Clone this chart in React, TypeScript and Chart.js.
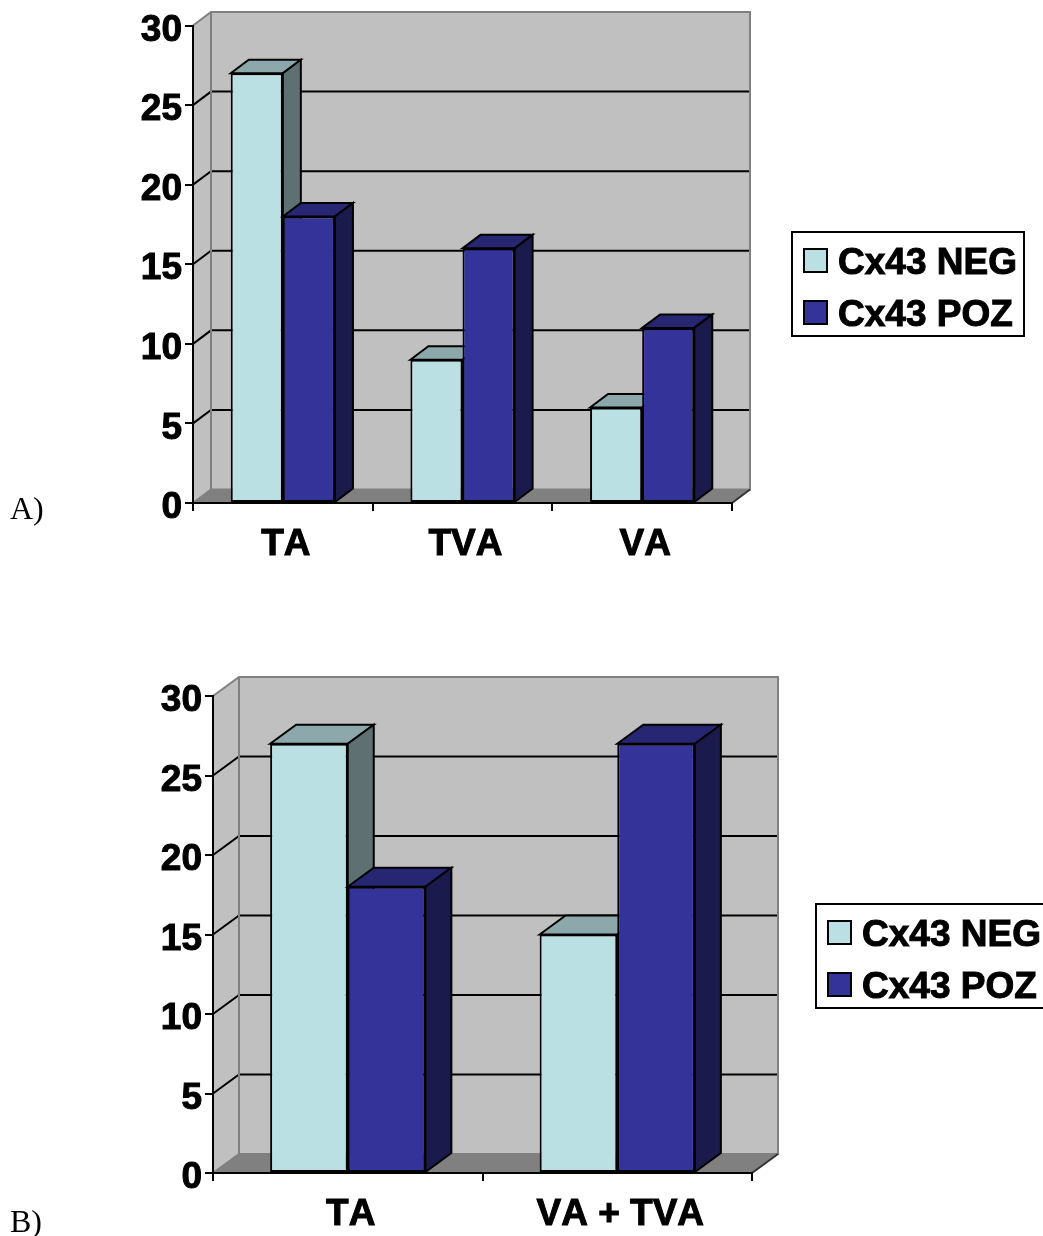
import React, { useEffect, useRef } from "react";
import { Chart, registerables } from "chart.js";

Chart.register(...registerables);

const categoriesA = ["TA", "TVA", "VA"];
const negativeA = [27, 9, 6];
const positiveA = [18, 16, 11];

const categoriesB = ["TA", "VA + TVA"];
const negativeB = [27, 15];
const positiveB = [18, 27];

const seriesNames = ["Cx43 NEG", "Cx43 POZ"];
const yTicks = [0, 5, 10, 15, 20, 25, 30];

const FRONT = ["#BBE0E3", "#333399"];
const TOP = ["#8CA8AA", "#262673"];
const SIDE = ["#5E7072", "#1A1A4D"];
const FONT = { family: "'Liberation Sans', Arial, sans-serif", size: 37, weight: "bold" as const };

type Geo = {
  h: number; left: number; right: number; top: number; bottom: number;
  dx: number; dy: number; catPct: number;
  legend: { x: number; y: number; w: number; h: number; sx: number; sy: number[]; tx: number };
  xPad: number;
};

const poly = (ctx: any, pts: number[][], fill: string | null, stroke: string | null, lw = 2) => {
  ctx.beginPath();
  pts.forEach((p, i) => (i ? ctx.lineTo(p[0], p[1]) : ctx.moveTo(p[0], p[1])));
  ctx.closePath();
  if (fill) { ctx.fillStyle = fill; ctx.fill(); }
  if (stroke) { ctx.strokeStyle = stroke; ctx.lineWidth = lw; ctx.lineJoin = "miter"; ctx.stroke(); }
};

const line = (ctx: any, pts: number[][], color: string, lw = 2) => {
  ctx.beginPath();
  pts.forEach((p, i) => (i ? ctx.lineTo(p[0], p[1]) : ctx.moveTo(p[0], p[1])));
  ctx.strokeStyle = color;
  ctx.lineWidth = lw;
  ctx.stroke();
};

const depthPlugin = (g: Geo) => ({
  id: "depth3d",
  beforeDraw(chart: any) {
    const ctx = chart.ctx;
    (ctx as any).fontKerning = "none";
    const { left, right, top, bottom } = chart.chartArea;
    const { dx, dy } = g;
    ctx.save();
    poly(ctx, [[left + dx, top - dy], [right + dx, top - dy], [right + dx, bottom - dy], [left + dx, bottom - dy]], "#C0C0C0", null);
    poly(ctx, [[left, top], [left + dx, top - dy], [left + dx, bottom - dy], [left, bottom]], "#C0C0C0", null);
    poly(ctx, [[left, bottom], [left + dx, bottom - dy], [right + dx, bottom - dy], [right, bottom]], "#808080", null);
    const y = chart.scales.y;
    y.ticks.forEach((t: any) => {
      if (t.value === 0 || t.value === 30) return;
      const py = y.getPixelForValue(t.value);
      line(ctx, [[left, py], [left + dx, py - dy], [right + dx, py - dy]], "#000", 2);
    });
    line(ctx, [[left, top], [left + dx, top - dy], [right + dx, top - dy], [right + dx, bottom - dy], [left + dx, bottom - dy]], "#808080", 2);
    line(ctx, [[left + dx, top - dy], [left + dx, bottom - dy]], "#808080", 2);
    line(ctx, [[left, bottom], [left + dx, bottom - dy]], "#808080", 2);
    line(ctx, [[right, bottom], [right + dx, bottom - dy]], "#333", 2);
    ctx.restore();
  },
  beforeDatasetsDraw(chart: any) {
    const ctx = chart.ctx;
    const { dx, dy } = g;
    chart.data.datasets.forEach((_: any, idx: number) => {
      const meta = chart.getDatasetMeta(idx);
      ctx.save();
      meta.data.forEach((bar: any) => {
        const half = bar.width / 2;
        const l = bar.x - half;
        const r = bar.x + half;
        const t = bar.y;
        const b = bar.base;
        poly(ctx, [[l, t], [l + dx, t - dy], [r + dx, t - dy], [r, t]], TOP[idx], "#000");
        poly(ctx, [[r, t], [r + dx, t - dy], [r + dx, b - dy], [r, b]], SIDE[idx], "#000");
      });
      ctx.restore();
      meta.controller.draw();
    });
    return false;
  },
  afterDraw(chart: any) {
    const ctx = chart.ctx;
    const L = g.legend;
    ctx.save();
    ctx.strokeStyle = "#000";
    ctx.lineWidth = 2;
    ctx.strokeRect(L.x, L.y, L.w, L.h);
    chart.data.datasets.forEach((ds: any, i: number) => {
      ctx.fillStyle = ds.backgroundColor;
      ctx.fillRect(L.sx, L.sy[i], 23, 23);
      ctx.strokeStyle = "#000";
      ctx.lineWidth = 2;
      ctx.strokeRect(L.sx, L.sy[i], 23, 23);
      ctx.fillStyle = "#000";
      ctx.font = `bold ${FONT.size}px ${FONT.family}`;
      ctx.textBaseline = "alphabetic";
      ctx.textAlign = "left";
      ctx.lineWidth = 1;
      ctx.strokeText(ds.label, L.tx, L.sy[i] + 25);
      ctx.fillText(ds.label, L.tx, L.sy[i] + 25);
    });
    ctx.restore();
  },
});

function Panel({ top, geo, categories, neg, pos }: { top: number; geo: Geo; categories: string[]; neg: number[]; pos: number[] }) {
  const ref = useRef<HTMLCanvasElement>(null);
  useEffect(() => {
    const chart = new Chart(ref.current as HTMLCanvasElement, {
      type: "bar",
      data: {
        labels: categories,
        datasets: [
          { label: seriesNames[0], data: neg, backgroundColor: FRONT[0], borderColor: "#000", borderWidth: 2, borderSkipped: false },
          { label: seriesNames[1], data: pos, backgroundColor: FRONT[1], borderColor: "#000", borderWidth: 2, borderSkipped: false },
        ],
      },
      options: {
        responsive: false,
        animation: false,
        events: [],
        layout: {
          autoPadding: false,
          padding: { left: 0, top: geo.top, right: 1043 - geo.right, bottom: 0 },
        },
        datasets: { bar: { categoryPercentage: geo.catPct, barPercentage: 1 } },
        plugins: { legend: { display: false }, tooltip: { enabled: false }, title: { display: false } },
        scales: {
          x: {
            type: "category",
            grid: { drawOnChartArea: false, drawTicks: true, tickLength: 8, color: "#000", lineWidth: 2 },
            border: { display: true, color: "#000", width: 2 },
            ticks: { color: "#000", font: FONT, padding: geo.xPad, labelOffset: 3, maxRotation: 0, minRotation: 0, autoSkip: false, textStrokeColor: "#000", textStrokeWidth: 1 },
            afterFit: (s: any) => { s.height = geo.h - geo.bottom; },
          },
          y: {
            min: 0,
            max: 30,
            afterBuildTicks: (s: any) => { s.ticks = yTicks.map((value) => ({ value })); },
            grid: { drawOnChartArea: false, drawTicks: true, tickLength: 8, color: "#000", lineWidth: 2 },
            border: { display: true, color: "#000", width: 2 },
            ticks: { color: "#000", font: FONT, padding: 3, labelOffset: 5, textStrokeColor: "#000", textStrokeWidth: 1 },
            afterFit: (s: any) => { s.width = geo.left; },
          },
        },
      } as any,
      plugins: [depthPlugin(geo)],
    });
    return () => chart.destroy();
  }, []);
  return (
    <canvas
      ref={ref}
      width={1043}
      height={geo.h}
      style={{ position: "absolute", left: 0, top, width: 1043, height: geo.h, display: "block" }}
    />
  );
}

const geoA: Geo = {
  h: 600, left: 193, right: 732, top: 25.5, bottom: 503, dx: 18, dy: 13.5, catPct: 0.58, xPad: 12,
  legend: { x: 792, y: 232, w: 232, h: 104, sx: 804, sy: [249, 301], tx: 838 },
};
const geoB: Geo = {
  h: 636, left: 213, right: 752, top: 96, bottom: 573, dx: 26, dy: 19, catPct: 0.576, xPad: 12,
  legend: { x: 816, y: 304, w: 232, h: 104, sx: 828, sy: [321, 373], tx: 862 },
};

const labelStyle = (top: number): React.CSSProperties => ({
  position: "absolute", left: 10, top, font: "32px/30px 'Liberation Serif', 'Times New Roman', serif", color: "#000",
});

export default function App() {
  return (
    <div style={{ position: "absolute", left: 0, top: 0, width: 1043, height: 1236, overflow: "hidden", background: "#fff" }}>
      <Panel top={0} geo={geoA} categories={categoriesA} neg={negativeA} pos={positiveA} />
      <Panel top={600} geo={geoB} categories={categoriesB} neg={negativeB} pos={positiveB} />
      <div style={labelStyle(493)}>A)</div>
      <div style={labelStyle(1206)}>B)</div>
    </div>
  );
}
